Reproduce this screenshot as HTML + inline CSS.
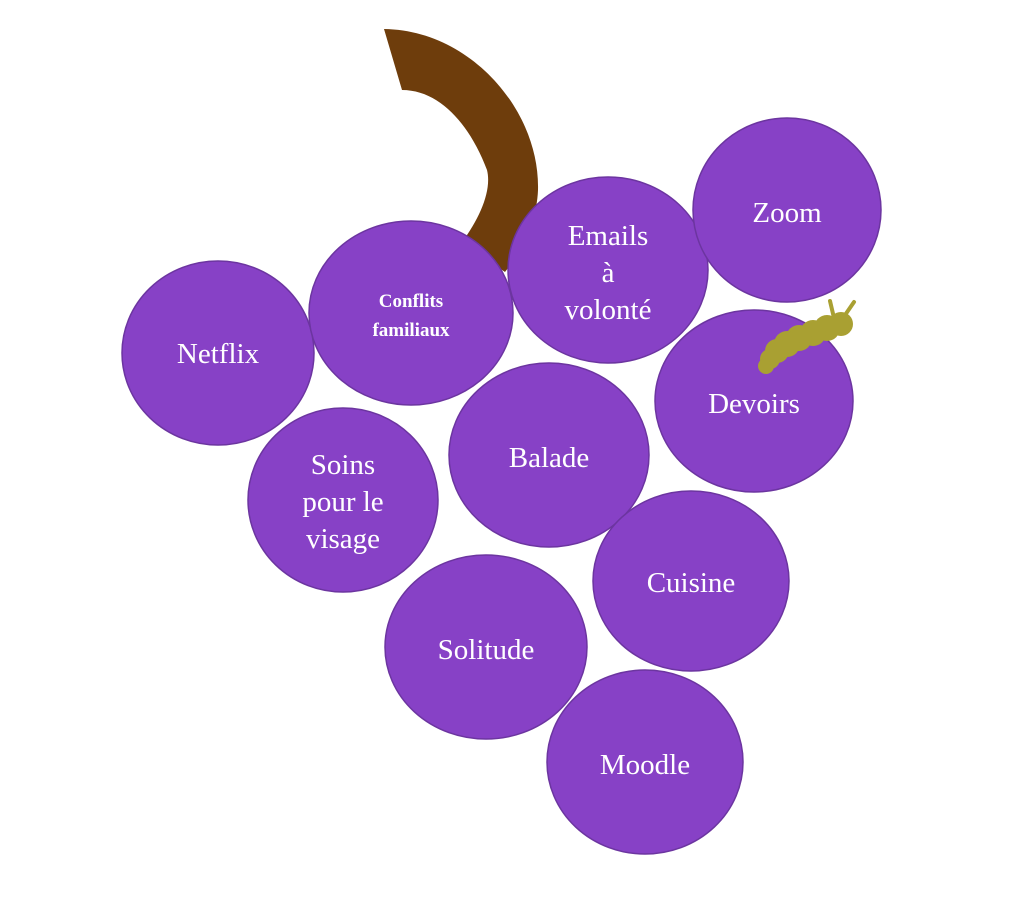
<!DOCTYPE html>
<html><head><meta charset="utf-8"><style>
body{margin:0;background:#fff;width:1012px;height:910px;overflow:hidden}
svg{display:block}
text{font-family:"Liberation Serif",serif;fill:#fff;font-size:29px;text-anchor:middle}
</style></head><body>
<svg width="1012" height="910" viewBox="0 0 1012 910">
<path d="M384,29 C470,30 540,110 538,190 C537,220 522,250 505,272 L462,242 C480,218 492,190 487,170 C470,125 440,90 402,90 Z" fill="#6e3d0c"/>
<g fill="#8741c6" stroke="#6c35a0" stroke-width="1.5">
<ellipse cx="218" cy="353" rx="96" ry="92"/>
<ellipse cx="411" cy="313" rx="102" ry="92"/>
<ellipse cx="608" cy="270" rx="100" ry="93"/>
<ellipse cx="787" cy="210" rx="94" ry="92"/>
<ellipse cx="754" cy="401" rx="99" ry="91"/>
<ellipse cx="343" cy="500" rx="95" ry="92"/>
<ellipse cx="549" cy="455" rx="100" ry="92"/>
<ellipse cx="691" cy="581" rx="98" ry="90"/>
<ellipse cx="486" cy="647" rx="101" ry="92"/>
<ellipse cx="645" cy="762" rx="98" ry="92"/>
</g>
<g fill="#a9a032" stroke="#a9a032">
<line x1="834" y1="318" x2="830" y2="301" stroke-width="4" stroke-linecap="round"/>
<line x1="843" y1="318" x2="854" y2="302" stroke-width="4" stroke-linecap="round"/>
<circle cx="841" cy="324" r="12" stroke="none"/>
<circle cx="827" cy="328" r="13" stroke="none"/>
<circle cx="813" cy="333" r="13" stroke="none"/>
<circle cx="799" cy="338" r="13" stroke="none"/>
<circle cx="787" cy="344" r="13" stroke="none"/>
<circle cx="777" cy="351" r="12" stroke="none"/>
<circle cx="770" cy="359" r="10" stroke="none"/>
<circle cx="766" cy="366" r="8" stroke="none"/>
</g>
<text x="218" y="363">Netflix</text>
<text x="411" y="307" style="font-size:19px;font-weight:bold">Conflits</text>
<text x="411" y="336" style="font-size:19px;font-weight:bold">familiaux</text>
<text x="608" y="245">Emails</text>
<text x="608" y="282">à</text>
<text x="608" y="319">volonté</text>
<text x="787" y="222">Zoom</text>
<text x="754" y="413">Devoirs</text>
<text x="343" y="474">Soins</text>
<text x="343" y="511">pour le</text>
<text x="343" y="548">visage</text>
<text x="549" y="467">Balade</text>
<text x="691" y="592">Cuisine</text>
<text x="486" y="659">Solitude</text>
<text x="645" y="774">Moodle</text>
</svg>
</body></html>
